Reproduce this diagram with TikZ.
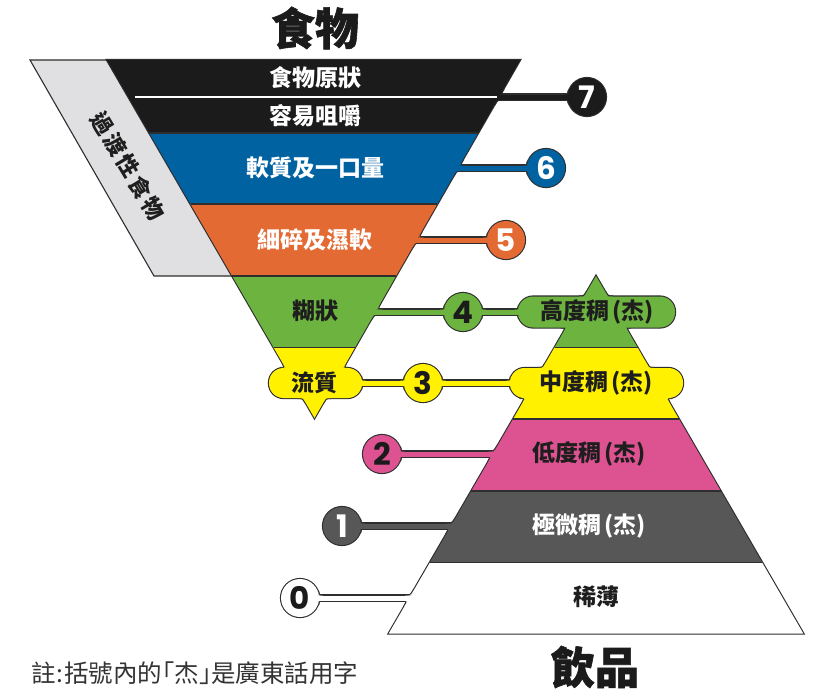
\documentclass[tikz,border=0pt]{standalone}
\usepackage{fontspec}
\newfontfamily\cjk{Noto Sans CJK TC}
\newfontfamily\cjkh{Noto Sans CJK TC}[BoldFeatures={FakeBold=1.3}]
\newfontfamily\numfont{Poppins}
\definecolor{outl}{HTML}{2E2E2E}
\definecolor{cblk}{HTML}{1B1B1B}
\definecolor{cblue}{HTML}{0062A1}
\definecolor{corange}{HTML}{E46A33}
\definecolor{cgreen}{HTML}{6CB33F}
\definecolor{cyellow}{HTML}{FFF100}
\definecolor{cpink}{HTML}{DD5290}
\definecolor{cgray}{HTML}{575757}
\definecolor{cband}{HTML}{E0E0E2}
\definecolor{ctext}{HTML}{1E1E1E}
\definecolor{cnote}{HTML}{333333}
\tikzset{
  olw/.style={draw=outl, line width=2.2pt, line join=miter},
  olr/.style={draw=outl, line width=2.2pt, line join=round},
  stripo/.style={draw=outl, line width=7.2pt},
  stripf/.style={line width=5pt},
  bline/.style={draw=outl, line width=1.1pt},
  lab/.style={font=\cjk\bfseries\fontsize{23}{23}\selectfont, inner sep=0pt},
  plab/.style={font=\cjk\bfseries\fontsize{23}{23}\selectfont, inner sep=0pt},
  numt/.style={font=\numfont\bfseries\fontsize{31}{31}\selectfont, inner sep=0pt},
  ttl/.style={font=\cjkh\bfseries\fontsize{44}{44}\selectfont, inner sep=0pt, text=cblk},
}
% fillet between a round end (circle) and a strip: cx cy r sx sy
\newcommand{\cfilpath}[5]{%
  \pgfmathsetmacro{\fa}{sqrt((#3)*(#3)-6.25)}%
  \pgfmathsetmacro{\fpx}{#1+(#4)*\fa}%
  \pgfmathsetmacro{\fpy}{#2+(#5)*2.5}%
  \pgfmathsetmacro{\ftax}{\fpx+(#4)*4}%
  \pgfmathsetmacro{\ftbx}{\fpx-(#4)*4*2.5/(#3)}%
  \pgfmathsetmacro{\ftby}{\fpy+(#5)*4*\fa/(#3)}%
}
\newcommand{\edgelist}{%
cblk/500.2/94.5/503.68/88.43/507.2/94.5,
cblk/497.33/99.5/494.34/104.70/503.33/99.5,
cblue/459.44/165.5/462.92/159.43/466.44/165.5,
cblue/456.57/170.5/453.58/175.70/462.57/170.5,
corange/418.11/237.5/421.59/231.43/425.11/237.5,
corange/415.24/242.5/412.25/247.70/421.24/242.5,
cgreen/376.79/309.5/380.27/303.43/383.79/309.5,
cgreen/373.92/314.5/370.93/319.70/379.92/314.5,
cpink/494.25/451.5/497.26/446.31/488.25/451.5,
cpink/491.35/456.5/487.84/462.56/484.35/456.5,
cgray/452.50/523.5/455.51/518.31/446.50/523.5,
cgray/449.60/528.5/446.09/534.56/442.60/528.5,
white/410.75/595.5/413.76/590.31/404.75/595.5,
white/407.85/600.5/404.34/606.56/400.85/600.5,
cyellow/285.5/368/282.99/363.67/280.5/368,
cyellow/302.9/398/305.41/402.33/297.9/398,
cyellow/343.21/368/345.70/363.66/348.21/368,
cyellow/325.99/398/323.50/402.34/330.99/398,
cgreen/584.11/296.5/586.62/292.17/579.11/296.5,
cgreen/607.89/296.5/605.38/292.17/612.89/296.5,
cgreen/566.14/327.5/563.63/331.83/561.14/327.5,
cgreen/625.86/327.5/628.37/331.83/630.86/327.5,
cyellow/542.66/368/545.17/363.67/537.66/368,
cyellow/649.34/368/646.83/363.67/654.34/368,
cyellow/525.26/398/522.75/402.33/520.26/398,
cyellow/666.74/398/669.25/402.33/671.74/398}
\newcommand{\circlist}{%
587/97/19/-1/-1/cblk, 587/97/19/-1/1/cblk,
546/168/19/-1/-1/cblue, 546/168/19/-1/1/cblue,
506/240/19/-1/-1/corange, 506/240/19/-1/1/corange,
463/312/19/1/-1/cgreen, 463/312/19/1/1/cgreen,
463/312/19/-1/-1/cgreen, 463/312/19/-1/1/cgreen,
533/312/15/-1/-1/cgreen, 533/312/15/-1/1/cgreen,
423/383/19/1/-1/cyellow, 423/383/19/1/1/cyellow,
423/383/19/-1/-1/cyellow, 423/383/19/-1/1/cyellow,
347.5/383/14.5/1/-1/cyellow, 347.5/383/14.5/1/1/cyellow,
524.5/383/14.5/-1/-1/cyellow, 524.5/383/14.5/-1/1/cyellow,
382/454/19/1/-1/cpink, 382/454/19/1/1/cpink,
342/526/19/1/-1/cgray, 342/526/19/1/1/cgray,
300/598/19/1/-1/white, 300/598/19/1/1/white}
\begin{document}
\begin{tikzpicture}[x=1pt,y=-1pt]
\useasboundingbox (0,0) rectangle (835,697);
\fill[white] (0,0) rectangle (835,697);
% circle centres and strip ends
\coordinate (c7) at (587,97);   \coordinate (e7) at (490,97);
\coordinate (c6) at (546,168);  \coordinate (e6) at (450,168);
\coordinate (c5) at (506,240);  \coordinate (e5) at (408,240);
\coordinate (c4) at (463,312);  \coordinate (e4) at (367,312); \coordinate (f4) at (530,312);
\coordinate (c3) at (423,383);  \coordinate (e3) at (350,383); \coordinate (f3) at (522,383);
\coordinate (c2) at (382,454);  \coordinate (e2) at (501,454);
\coordinate (c1) at (342,526);  \coordinate (e1) at (459,526);
\coordinate (c0) at (300,598);  \coordinate (e0) at (417,598);
% transitional band
\filldraw[fill=cband, draw=outl, line width=1.1pt] (30,60) -- (107,60) -- (232.2,276) -- (154,276) -- cycle;
% ---- outline pass ----
\draw[olw] (107,60) -- (520,60) -- (314.5,418) -- cycle;
\draw[olw] (596,276) -- (803.3,633.5) -- (388.7,633.5) -- cycle;
\draw[olw, rounded corners=14.5pt] (269,368) rectangle (362,398);
\draw[olw, rounded corners=15pt] (518,296.5) rectangle (675,327.5);
\draw[olw, rounded corners=14.5pt] (510,368) rectangle (683,398);
\foreach \i in {7,6,5,2,1,0} { \draw[stripo] (c\i) -- (e\i); }
\draw[stripo] (e4) -- (f4);
\draw[stripo] (e3) -- (f3);
\foreach \i in {0,...,7} { \fill[outl] (c\i) circle[radius=20.1pt]; }
\foreach \col/\px/\py/\ax/\ay/\bx/\by in \edgelist {
  \draw[olr] (\ax,\ay) .. controls (\px,\py) .. (\bx,\by) -- (\px,\py) -- cycle; }
\foreach \cx/\cy/\r/\sx/\sy/\col in \circlist {
  \cfilpath{\cx}{\cy}{\r}{\sx}{\sy}
  \draw[olr] (\ftax,\fpy) .. controls (\fpx,\fpy) .. (\ftbx,\ftby) -- (\fpx,\fpy) -- cycle; }
% ---- fill pass: food ----
\fill[cblk] (107,60) -- (520,60) -- (478.1,133) -- (149.3,133) -- cycle;
\fill[cblue] (149.3,133) -- (478.1,133) -- (437.3,204) -- (190.5,204) -- cycle;
\fill[corange] (190.5,204) -- (437.3,204) -- (396,276) -- (232.2,276) -- cycle;
\fill[cgreen] (232.2,276) -- (396,276) -- (355,347.5) -- (273.6,347.5) -- cycle;
\fill[cyellow] (273.6,347.5) -- (355,347.5) -- (314.5,418) -- cycle;
% ---- fill pass: drinks ----
\fill[cgreen] (596,276) -- (637.5,347.5) -- (554.5,347.5) -- cycle;
\fill[cyellow] (554.5,347.5) -- (637.5,347.5) -- (678.9,419) -- (513.1,419) -- cycle;
\fill[cpink] (513.1,419) -- (678.9,419) -- (720.7,491) -- (471.3,491) -- cycle;
\fill[cgray] (471.3,491) -- (720.7,491) -- (762.1,562.5) -- (429.9,562.5) -- cycle;
\fill[white] (429.9,562.5) -- (762.1,562.5) -- (803.3,633.5) -- (388.7,633.5) -- cycle;
% pills
\fill[cyellow, rounded corners=14.5pt] (269,368) rectangle (362,398);
\fill[cgreen, rounded corners=15pt] (518,296.5) rectangle (675,327.5);
\fill[cyellow, rounded corners=14.5pt] (510,368) rectangle (683,398);
% strips
\draw[stripf, cblk] (c7) -- (e7);
\draw[stripf, cblue] (c6) -- (e6);
\draw[stripf, corange] (c5) -- (e5);
\draw[stripf, cgreen] (e4) -- (f4);
\draw[stripf, cyellow] (e3) -- (f3);
\draw[stripf, cpink] (c2) -- (e2);
\draw[stripf, cgray] (c1) -- (e1);
\draw[stripf, white] (c0) -- (e0);
% circles
\fill[cblk] (c7) circle[radius=19pt];
\fill[cblue] (c6) circle[radius=19pt];
\fill[corange] (c5) circle[radius=19pt];
\fill[cgreen] (c4) circle[radius=19pt];
\fill[cyellow] (c3) circle[radius=19pt];
\fill[cpink] (c2) circle[radius=19pt];
\fill[cgray] (c1) circle[radius=19pt];
\fill[white] (c0) circle[radius=19pt];
% fillets
\foreach \col/\px/\py/\ax/\ay/\bx/\by in \edgelist {
  \fill[\col] (\ax,\ay) .. controls (\px,\py) .. (\bx,\by) -- (\px,\py) -- cycle; }
\foreach \cx/\cy/\r/\sx/\sy/\col in \circlist {
  \cfilpath{\cx}{\cy}{\r}{\sx}{\sy}
  \fill[\col] (\ftax,\fpy) .. controls (\fpx,\fpy) .. (\ftbx,\ftby) -- (\fpx,\fpy) -- cycle; }
% boundary lines
\draw[bline] (149.3,133) -- (478.1,133);
\draw[bline] (190.5,204) -- (437.3,204);
\draw[bline] (232.2,276) -- (396,276);
\draw[bline] (273.6,347.5) -- (355,347.5);
\draw[bline] (554.5,347.5) -- (637.5,347.5);
\draw[bline] (513.1,419) -- (678.9,419);
\draw[bline] (471.3,491) -- (720.7,491);
\draw[bline] (429.9,562.5) -- (762.1,562.5);
\draw[white, line width=1.6pt] (135,97) -- (497,97);
% numbers
\node[numt, text=white] (n7) at (c7) {7};
\node[numt, text=white] (n6) at (c6) {6};
\node[numt, text=white] (n5) at (c5) {5};
\node[numt, text=cblk] (n4) at (c4) {4};
\node[numt, text=cblk] (n3) at (c3) {3};
\node[numt, text=cblk] (n2) at (c2) {2};
\node[numt, text=white] (n1) at (c1) {1};
\node[numt, text=cblk] (n0) at (c0) {0};
% food labels
\node[lab, text=white] (f7a) at (315,78) {食物原狀};
\node[lab, text=white] (f7b) at (315,115.5) {容易咀嚼};
\node[lab, text=white] (f6) at (315,168) {軟質及一口量};
\node[lab, text=white] (f5) at (315,239.5) {細碎及濕軟};
\node[lab, text=ctext] (f4) at (315,311) {糊狀};
\node[lab, text=ctext] (f3) at (314.5,383) {流質};
% drink labels
\node[plab, text=ctext] (d4) at (597,312) {高度稠\kern3pt(杰)};
\node[plab, text=ctext] (d3) at (596.5,383) {中度稠\kern3pt(杰)};
\node[plab, text=ctext] (d2) at (589.5,454) {低度稠\kern3pt(杰)};
\node[plab, text=white] (d1) at (589,526) {極微稠\kern3pt(杰)};
\node[plab, text=ctext] (d0) at (596,597) {稀薄};
% band label
\node[rotate=-59, font=\cjk\bfseries\fontsize{22}{22}\selectfont, inner sep=0pt, text=ctext] (band) at (128,166) {過\kern3pt渡\kern3pt性\kern3pt食\kern3pt物};
% titles
\node[ttl] (tfood) at (315,28) {食物};
\node[ttl] (tdrink) at (595,667) {飲品};
% note
\node[font=\cjk\fontsize{24.5}{24.5}\selectfont, inner sep=0pt, text=cnote, anchor=west] (note) at (31,673) {註\kern1pt:\kern1pt括號內的｢杰｣是廣東話用字};
\end{tikzpicture}
\end{document}
